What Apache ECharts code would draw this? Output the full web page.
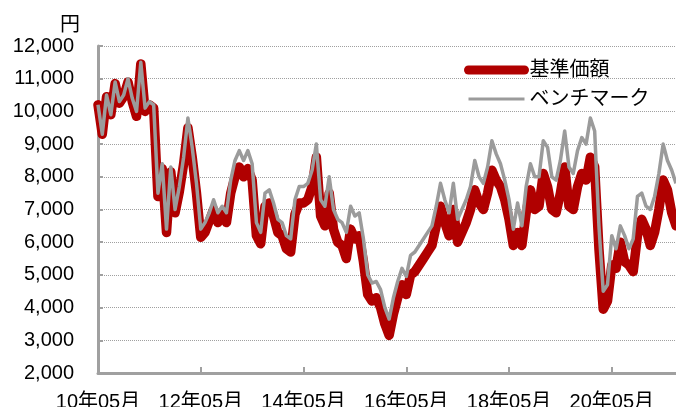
<!DOCTYPE html>
<html>
<head>
<meta charset="utf-8">
<script src="https://cdn.jsdelivr.net/npm/echarts@6/dist/echarts.min.js"></script>
<style>
  html, body { margin: 0; padding: 0; background: #fff; }
  #main { width: 676px; height: 407px; }
</style>
</head>
<body>
<div id="main"></div>
<script>
// 月次データ（2010年05月〜2021年08月）
var startYear = 2010, startMonth = 5, monthCount = 136;
var months = [];
for (var i = 0; i < monthCount; i++) {
    var y = startYear + Math.floor((startMonth - 1 + i) / 12);
    var m = (startMonth - 1 + i) % 12 + 1;
    months.push(y + '-' + (m < 10 ? '0' + m : m));
}

// 基準価額
var fund = [
    10200, 9300, 10450, 9900, 10850, 10250, 10450, 10900, 10300, 9850,
    11450, 10000, 10200, 10100, 7400, 8250, 6300, 8150, 6900, 7550,
    8400, 9500, 8600, 7500, 6150, 6300, 6650, 7000, 6600, 6850,
    6600, 7500, 8000, 8300, 8000, 8250, 7900, 6200, 5950, 7100,
    7200, 6800, 6300, 6200, 5800, 5700, 6850, 7200, 7200, 7300,
    7700, 8600, 6800, 6500, 7500, 6400, 6000, 5900, 5500, 6400,
    6100, 6200, 5400, 4400, 4200, 4300, 4000, 3500, 3150, 3800,
    4300, 4700, 4400, 5000, 5100, 5300, 5500, 5700, 5900, 6500,
    7100, 6600, 6200, 7000, 6000, 6300, 6600, 7000, 7600, 7200,
    7000, 7500, 8200, 7900, 7700, 7300, 6700, 5900, 6300, 5900,
    6900, 7600, 7000, 7100, 8100, 7700, 7000, 6900, 7500, 8300,
    7100, 7000, 7700, 8100, 7900, 8600, 8300, 5800, 3950, 4200,
    5300, 5200, 6000, 5400, 5300, 5100, 6200, 6700, 6400, 5900,
    6300, 7000, 7900, 7600, 6900, 6500
];

// ベンチマーク
var bench = [
    10200, 9300, 10500, 9900, 10900, 10300, 10500, 11000, 10400, 10000,
    11500, 10100, 10300, 10200, 7500, 8400, 6400, 8300, 7000, 7700,
    8600, 9800, 8900, 7800, 6400, 6600, 6900, 7300, 6900, 7100,
    6900, 7900, 8500, 8800, 8500, 8800, 8400, 6600, 6300, 7500,
    7600, 7200, 6700, 6600, 6200, 6100, 7300, 7700, 7700, 7800,
    8200, 9000, 7300, 7100, 8000, 7000, 6700, 6600, 6300, 7100,
    6800, 6900, 6100, 5000, 4750, 4800, 4550, 4000, 3650, 4300,
    4800, 5200, 4950, 5600, 5700, 5900, 6100, 6300, 6500, 7100,
    7800, 7300, 6900, 7800, 6700, 7000, 7300, 7700, 8500, 8000,
    7800, 8300, 9100, 8700, 8400, 7900, 7300, 6400, 7200, 6500,
    7700, 8400, 8000, 8000, 9100, 8900, 8000, 7900, 8500, 9400,
    8300, 8100, 8800, 9200, 9000, 9800, 9400, 6500, 4500, 4700,
    6200, 5800, 6500, 6200, 5800, 6100, 7400, 7500, 7100, 7000,
    7400, 8100, 9000, 8500, 8200, 7800
];

var fontFam = "'Liberation Sans', Arial, 'Noto Sans CJK JP', sans-serif";

var chart = echarts.init(document.getElementById('main'));
var option = {
    animation: false,
    grid: { left: 98, right: 0, top: 46, bottom: 34, outerBoundsMode: 'none' },
    legend: {
        orient: 'vertical',
        left: 459,
        top: 55,
        itemWidth: 56,
        itemHeight: 12,
        itemGap: 9,
        itemStyle: { opacity: 0 },
        textStyle: { fontSize: 20, color: '#000', fontFamily: fontFam },
        data: [
            { name: '基準価額', lineStyle: { width: 9, cap: 'round' } },
            { name: 'ベンチマーク', lineStyle: { width: 3 } }
        ]
    },
    xAxis: {
        type: 'category',
        data: months,
        boundaryGap: false,
        axisLine: { lineStyle: { color: '#a0a0a0', width: 3 } },
        axisTick: { inside: true, length: 6, interval: 23, lineStyle: { color: '#a0a0a0', width: 2 } },
        axisLabel: {
            interval: 23,
            margin: 19,
            fontSize: 20,
            color: '#000',
            fontFamily: fontFam,
            formatter: function (v) {
                return v.substr(2, 2) + '年' + v.substr(5, 2) + '月';
            }
        },
        splitLine: { show: false }
    },
    yAxis: {
        type: 'value',
        min: 2000,
        max: 12000,
        interval: 1000,
        name: '円',
        nameLocation: 'end',
        nameGap: 11,
        nameTextStyle: { fontSize: 20, color: '#000', fontFamily: fontFam, align: 'right', padding: [0, 18, 0, 0] },
        axisLine: { show: true, lineStyle: { color: '#a0a0a0', width: 3 } },
        axisTick: { show: true, inside: true, length: 5, lineStyle: { color: '#a0a0a0', width: 2 } },
        axisLabel: {
            margin: 24,
            fontSize: 20,
            color: '#000',
            fontFamily: fontFam,
            formatter: function (v) { return v.toLocaleString('en-US'); }
        },
        splitLine: { lineStyle: { color: '#a0a0a0', type: 'dotted', width: 1 } }
    },
    series: [
        {
            name: '基準価額',
            type: 'line',
            data: fund,
            symbol: 'none',
            lineStyle: { color: '#b00000', width: 9.5, join: 'round', cap: 'round' },
            itemStyle: { color: '#b00000' }
        },
        {
            name: 'ベンチマーク',
            type: 'line',
            data: bench,
            symbol: 'none',
            lineStyle: { color: '#9b9b9b', width: 3.5, join: 'round' },
            itemStyle: { color: '#9b9b9b' }
        }
    ]
};
chart.setOption(option);
</script>
</body>
</html>
